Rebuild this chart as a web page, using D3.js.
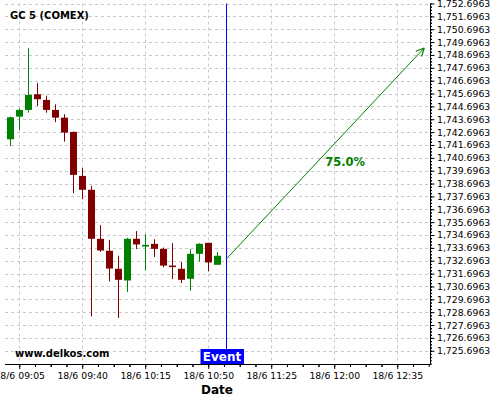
<!DOCTYPE html>
<html><head><meta charset="utf-8">
<script src="https://cdn.jsdelivr.net/npm/d3@7"></script>
<style>
html,body{margin:0;padding:0;background:#fff;}
svg{display:block;font-family:"DejaVu Sans",sans-serif;}
</style></head>
<body><svg id="c" width="500" height="400"></svg>
<script>
// ---- data ----
const times  = ["09:00","09:05","09:10","09:15","09:20","09:25","09:30","09:35","09:40","09:45","09:50","09:55",
                "10:00","10:05","10:10","10:15","10:20","10:25","10:30","10:35","10:40","10:45","10:50","10:55"];
const opens  = [1742.14,1743.90,1744.42,1745.64,1745.20,1744.42,1743.82,1742.71,1739.29,1738.21,1734.40,1733.47,
                1732.07,1731.16,1734.40,1733.80,1734.01,1733.62,1732.32,1732.07,1731.29,1733.23,1734.09,1732.38];
const highs  = [1743.90,1744.55,1749.22,1746.50,1745.53,1744.86,1744.09,1742.75,1739.89,1738.52,1735.46,1734.32,
                1733.08,1734.48,1735.00,1734.76,1734.37,1733.72,1734.06,1732.59,1733.60,1734.05,1734.09,1733.36];
const lows   = [1741.62,1742.87,1744.21,1744.73,1744.21,1743.47,1741.96,1737.95,1737.48,1728.36,1733.39,1731.08,
                1728.24,1730.26,1733.60,1731.94,1732.98,1732.17,1731.27,1730.96,1730.38,1732.63,1731.86,1732.38];
const closes = [1743.85,1744.42,1745.59,1745.25,1744.42,1743.82,1742.66,1739.37,1738.21,1734.40,1733.49,1732.09,
                1731.21,1734.40,1733.96,1733.93,1733.62,1732.32,1732.25,1731.21,1733.23,1734.01,1732.56,1733.08];
const xTickLabels = ["18/6 09:05","18/6 09:40","18/6 10:15","18/6 10:50","18/6 11:25","18/6 12:00","18/6 12:35"];
const yTickLabels = ["1,725.6963","1,726.6963","1,727.6963","1,728.6963","1,729.6963","1,730.6963","1,731.6963",
  "1,732.6963","1,733.6963","1,734.6963","1,735.6963","1,736.6963","1,737.6963","1,738.6963","1,739.6963",
  "1,740.6963","1,741.6963","1,742.6963","1,743.6963","1,744.6963","1,745.6963","1,746.6963","1,747.6963",
  "1,748.6963","1,749.6963","1,750.6963","1,751.6963","1,752.6963"];
const eventTime = "11:00";
const arrowStart = {time:"11:00", price:1732.82};
const arrowEnd   = {time:"12:50", price:1749.24};
const pctLabel = {text:"75.0%", time:"11:55", price:1740.07};
const title = "GC 5 (COMEX)";
const site = "www.delkos.com";

// ---- layout ----
const T = s => new Date(2020,5,18,+s.split(":")[0],+s.split(":")[1]);
const parseTick = s => T(s.split(" ")[1]);
const pL=5, pR=430, pT=3.5, pB=364;
const x = d3.scaleTime().domain([new Date(2020,5,18,8,57,6), new Date(2020,5,18,12,53,12)]).range([pL,pR]);
const y = d3.scaleLinear().domain([1724.666,1752.6963]).range([pB,pT]);
const svg = d3.select("#c");

const yVals = yTickLabels.map(s=>+s.replace(/,/g,""));
const xVals = xTickLabels.map(parseTick);

// grid
const g = svg.append("g");
g.selectAll("line.h").data(yVals).join("line")
  .attr("x1",pL).attr("x2",pR).attr("y1",d=>Math.round(y(d))+0.5).attr("y2",d=>Math.round(y(d))+0.5)
  .attr("stroke","#c8c8c8").attr("stroke-dasharray","3,3");
g.selectAll("line.v").data(xVals).join("line")
  .attr("y1",pT).attr("y2",pB).attr("x1",d=>Math.round(x(d))+0.5).attr("x2",d=>Math.round(x(d))+0.5)
  .attr("stroke","#c8c8c8").attr("stroke-dasharray","3,3");

// candles
const cw = 7;
const cg = svg.append("g");
times.forEach((t,i)=>{
  const cx = Math.round(x(T(t)));
  const up = closes[i] >= opens[i];
  const col = up ? "#008000" : "#800000";
  cg.append("line").attr("x1",cx+0.5).attr("x2",cx+0.5).attr("y1",y(highs[i])).attr("y2",y(lows[i]))
    .attr("stroke",col).attr("stroke-width",1);
  const yt = y(Math.max(opens[i],closes[i])), yb = y(Math.min(opens[i],closes[i]));
  cg.append("rect").attr("x",cx+0.5-cw/2).attr("width",cw).attr("y",yt).attr("height",Math.max(1.5,yb-yt))
    .attr("fill",col);
});

// event line
const ex = Math.round(x(T(eventTime)))+0.5;
svg.append("line").attr("x1",ex).attr("x2",ex).attr("y1",pT).attr("y2",pB).attr("stroke","#0000ff").attr("stroke-width",1);

// arrow
const ax1=x(T(arrowStart.time)), ay1=y(arrowStart.price), ax2=x(T(arrowEnd.time)), ay2=y(arrowEnd.price);
svg.append("line").attr("x1",ax1).attr("y1",ay1).attr("x2",ax2).attr("y2",ay2).attr("stroke","#008000").attr("stroke-width",1);
const ang = Math.atan2(ay2-ay1, ax2-ax1), hl=9;
[0.45,-0.45].forEach(da=>{
  svg.append("line").attr("x1",ax2).attr("y1",ay2)
    .attr("x2",ax2-hl*Math.cos(ang+da)).attr("y2",ay2-hl*Math.sin(ang+da))
    .attr("stroke","#008000").attr("stroke-width",1.2);
});
svg.append("text").attr("x",x(T(pctLabel.time))).attr("y",y(pctLabel.price)).text(pctLabel.text)
  .attr("fill","#008000").attr("font-weight","bold").attr("font-size","11.5px");

// axes
const minorX = [];
xVals.forEach(d=>{ for(let k=-3;k<4;k++){ const m=new Date(+d + k*8.75*60000); if(x(m)>=pL && x(m)<=pR) minorX.push(m);} });
svg.append("g").attr("transform",`translate(0,${pB})`)
  .call(d3.axisBottom(x).tickValues(minorX).tickSize(3).tickFormat(""))
  .call(a=>a.select(".domain").remove())
  .selectAll("line").attr("stroke","#000");
const xa = svg.append("g").attr("transform",`translate(0,${pB})`)
  .call(d3.axisBottom(x).tickValues(xVals).tickSize(5).tickPadding(3.5).tickFormat((d,i)=>xTickLabels[i]));
xa.select(".domain").attr("d",`M${pL},0.5H${pR}`).attr("stroke","#000");
xa.selectAll("text").attr("font-size","9.3px").attr("font-family","DejaVu Sans").attr("fill","#000");

const minorY = [];
yVals.forEach(v=>{ for(let k=-4;k<4;k++){ const m=v+k*0.25; if(y(m)<=pB && y(m)>=pT) minorY.push(m);} });
svg.append("g").attr("transform",`translate(${pR},0)`)
  .call(d3.axisRight(y).tickValues(minorY).tickSize(2).tickFormat(""))
  .call(a=>a.select(".domain").remove())
  .selectAll("line").attr("stroke","#000");
const ya = svg.append("g").attr("transform",`translate(${pR+0.5},0)`)
  .call(d3.axisRight(y).tickValues(yVals).tickSize(4).tickPadding(2.5).tickFormat((d,i)=>yTickLabels[i]));
ya.select(".domain").attr("d",`M0,${pT}V${pB+1}`).attr("stroke","#000");
ya.selectAll("text").attr("font-size","9.3px").attr("font-family","DejaVu Sans").attr("fill","#000");

// texts
svg.append("text").attr("x",10).attr("y",19).text(title).attr("font-weight","bold").attr("font-size","10px");
svg.append("text").attr("x",15).attr("y",357).text(site).attr("font-weight","bold").attr("font-size","10px");
svg.append("rect").attr("x",ex-26).attr("y",349).attr("width",43.5).attr("height",15).attr("fill","#0000ff");
svg.append("text").attr("x",ex-4.5).attr("y",361).attr("text-anchor","middle").text("Event")
  .attr("fill","#fff").attr("font-weight","bold").attr("font-size","12px");
svg.append("text").attr("x",217).attr("y",394).attr("text-anchor","middle").text("Date")
  .attr("font-weight","bold").attr("font-size","12px");
</script></body></html>
